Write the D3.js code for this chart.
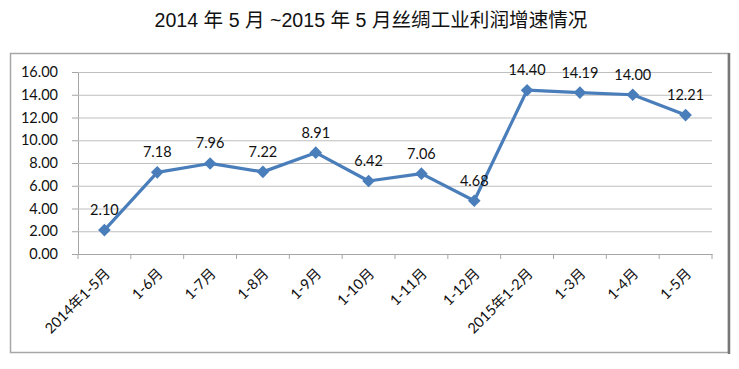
<!DOCTYPE html>
<html>
<head>
<meta charset="utf-8">
<script src="https://cdn.jsdelivr.net/npm/d3@7"></script>
<style>
  body { margin: 0; background: #fff; }
  svg text { font-family: Lato, "Noto Sans CJK SC", sans-serif; }
</style>
</head>
<body>
<div id="chart"></div>
<script>
const categories = ['2014年1-5月', '1-6月', '1-7月', '1-8月', '1-9月', '1-10月', '1-11月', '1-12月', '2015年1-2月', '1-3月', '1-4月', '1-5月'];
const profitGrowth = [2.10, 7.18, 7.96, 7.22, 8.91, 6.42, 7.06, 4.68, 14.40, 14.19, 14.00, 12.21];
const yTicks = [0, 2, 4, 6, 8, 10, 12, 14, 16];
const title = '2014 年 5 月 ~2015 年 5 月丝绸工业利润增速情况';

const W = 739, H = 369;
const svg = d3.select('#chart').append('svg').attr('width', W).attr('height', H);

svg.append('text').text(title)
  .attr('x', 371).attr('y', 27).attr('text-anchor', 'middle')
  .style('font-family', '"Liberation Sans", "Noto Sans CJK SC", sans-serif')
  .style('font-size', '19.6px').attr('fill', '#111');

// outer chart frame
svg.append('rect').attr('x', 10.5).attr('y', 53.5).attr('width', 718).attr('height', 299)
  .attr('fill', 'none').attr('stroke', '#a6a6a6').attr('stroke-width', 1.5);
svg.append('line').attr('x1', 729).attr('x2', 729).attr('y1', 53).attr('y2', 354)
  .attr('stroke', '#777').attr('stroke-width', 2.5);

const x = d3.scaleBand().domain(categories).range([78, 712]);
const y = d3.scaleLinear().domain([0, 16]).range([254, 72]);

// gridlines + y axis
const yAxis = svg.append('g').attr('transform', 'translate(78,0)')
  .call(d3.axisLeft(y).tickValues(yTicks).tickFormat(d3.format('.2f')).tickSize(6).tickPadding(14));
yAxis.select('.domain').attr('stroke', '#a6a6a6');
yAxis.selectAll('.tick line').attr('stroke', '#a6a6a6');
yAxis.selectAll('.tick text').style('font-size', '14.5px').attr('fill', '#111');
yAxis.selectAll('.tick').filter(d => d > 0).append('line')
  .attr('x1', 0).attr('x2', 712 - 78).attr('stroke', '#bfbfbf');

// x axis
const xAxis = svg.append('g').attr('transform', 'translate(0,254)')
  .call(d3.axisBottom(x).tickSize(0).tickPadding(0));
xAxis.select('.domain').attr('stroke', '#a6a6a6');
xAxis.selectAll('.tick text').remove();
svg.append('g').selectAll('line').data(categories.concat([null])).join('line')
  .attr('x1', (d, i) => 78 + i * x.bandwidth()).attr('x2', (d, i) => 78 + i * x.bandwidth())
  .attr('y1', 254).attr('y2', 259).attr('stroke', '#a6a6a6');
svg.append('g').selectAll('text').data(categories).join('text')
  .text(d => d)
  .attr('transform', d => `translate(${x(d) + x.bandwidth() / 2 + 3},${271}) rotate(-45)`)
  .attr('text-anchor', 'end').attr('dy', '0.35em')
  .style('font-size', '14.5px').attr('fill', '#111');

// line
const cx = d => x(d) + x.bandwidth() / 2;
svg.append('path').datum(profitGrowth)
  .attr('d', d3.line().x((d, i) => cx(categories[i])).y(d => y(d)))
  .attr('fill', 'none').attr('stroke', '#4a7ebb').attr('stroke-width', 3.2).attr('stroke-linejoin', 'round');

svg.append('g').selectAll('path').data(profitGrowth).join('path')
  .attr('d', d3.symbol(d3.symbolSquare, 80))
  .attr('transform', (d, i) => `translate(${cx(categories[i])},${y(d)}) rotate(45)`)
  .attr('fill', '#4a7ebb');

svg.append('g').selectAll('text').data(profitGrowth).join('text')
  .text(d => d.toFixed(2))
  .attr('x', (d, i) => cx(categories[i]))
  .attr('y', d => y(d) - 15)
  .attr('text-anchor', 'middle')
  .style('font-size', '14.5px').attr('fill', '#111');
</script>
</body>
</html>
